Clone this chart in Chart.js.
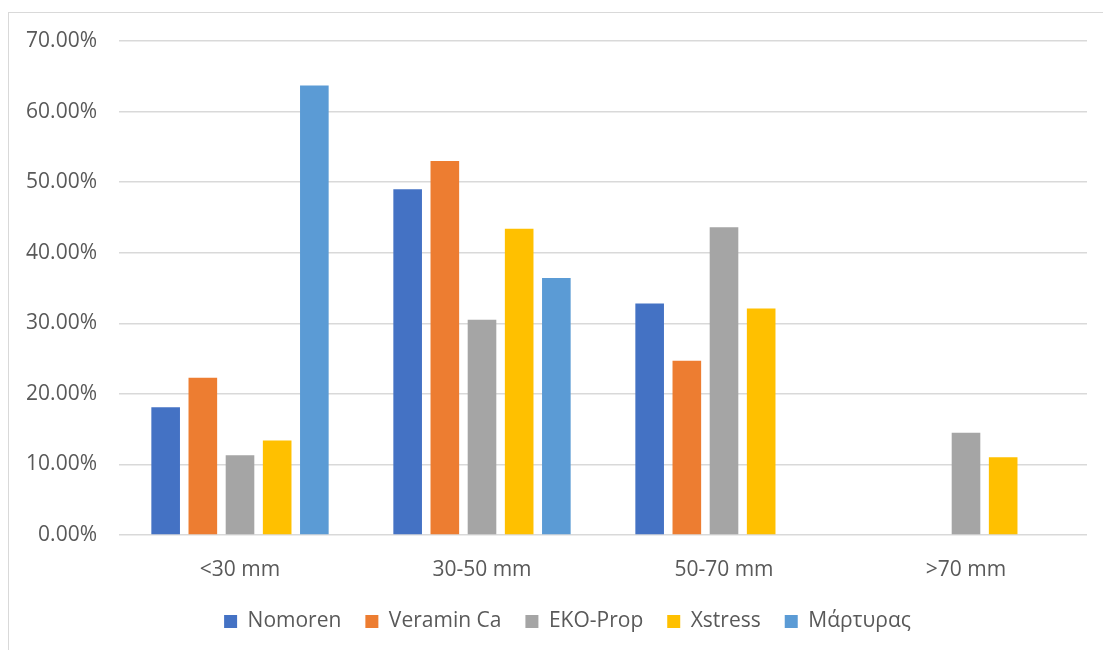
<!DOCTYPE html>
<html>
<head>
<meta charset="utf-8">
<script src="https://cdn.jsdelivr.net/npm/chart.js@4.4.1/dist/chart.umd.min.js"></script>
<style>
    html, body { margin: 0; padding: 0; background: #ffffff; overflow: hidden; }
    #frame { position: absolute; left: 8px; top: 12px; width: 1200px; height: 800px; border: 1px solid #d9d9d9; box-sizing: border-box; }
    #wrap { position: absolute; left: 0; top: 0; width: 1103px; height: 642px; }
</style>
</head>
<body>
<div id="frame"></div>
<div id="wrap"><canvas id="sizeChart"></canvas></div>
<script>
const categories = ['<30 mm', '30-50 mm', '50-70 mm', '>70 mm'];
const seriesNames = ['Nomoren', 'Veramin Ca', 'EKO-Prop', 'Xstress', 'Μάρτυρας'];
const nomoren = [18.1, 49.0, 32.8, 0];
const veraminCa = [22.3, 53.0, 24.7, 0];
const ekoProp = [11.3, 30.5, 43.6, 14.5];
const xstress = [13.4, 43.4, 32.1, 11.0];
const martyras = [63.7, 36.4, 0, 0];
const yTicks = [0, 10, 20, 30, 40, 50, 60, 70];

const colors = ['#4472C4', '#ED7D31', '#A5A5A5', '#FFC000', '#5B9BD5'];
const values = [nomoren, veraminCa, ekoProp, xstress, martyras];

// legend sits centred a bit right of the canvas middle in the original
const legendShift = {
    id: 'legendShift',
    afterLayout: function (chart) {
        chart.legend.left += 24;
        chart.legend.right += 24;
    }
};

document.addEventListener('DOMContentLoaded', function () {
    Chart.defaults.font.family = "'Open Sans', sans-serif";
    Chart.defaults.font.size = 21;
    Chart.defaults.color = '#595959';

    const ctx = document.getElementById('sizeChart').getContext('2d');

    new Chart(ctx, {
        type: 'bar',
        data: {
            labels: categories,
            datasets: seriesNames.map(function (name, i) {
                return {
                    label: name,
                    data: values[i],
                    backgroundColor: colors[i],
                    borderWidth: 0,
                    categoryPercentage: 0.768,
                    barPercentage: 0.77
                };
            })
        },
        options: {
            responsive: true,
            maintainAspectRatio: false,
            animation: false,
            layout: {
                padding: { left: 0, right: 16, top: 41, bottom: 0 }
            },
            scales: {
                x: {
                    grid: { display: false },
                    border: { display: false },
                    ticks: { padding: 14 },
                    afterFit: function (scale) { scale.height = 52; }
                },
                y: {
                    min: 0,
                    max: 70,
                    afterBuildTicks: function (scale) {
                        scale.ticks = yTicks.map(function (v) { return { value: v }; });
                    },
                    grid: { color: '#d9d9d9', lineWidth: 1.5, drawTicks: false },
                    border: { display: false },
                    ticks: {
                        padding: 22,
                        callback: function (v) { return v.toFixed(2) + '%'; }
                    },
                    afterFit: function (scale) { scale.width = 119; }
                }
            },
            plugins: {
                legend: {
                    position: 'bottom',
                    labels: {
                        boxWidth: 13,
                        boxHeight: 13,
                        padding: 24
                    }
                },
                tooltip: { enabled: false }
            }
        },
        plugins: [legendShift]
    });
});
</script>
</body>
</html>
